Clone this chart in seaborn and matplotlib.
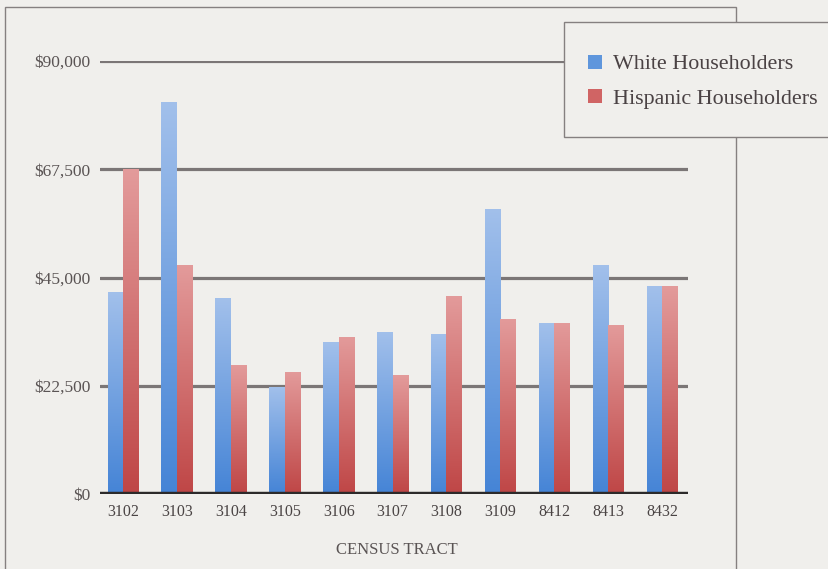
import numpy as np
import pandas as pd
import matplotlib
matplotlib.use("Agg")
import matplotlib.pyplot as plt
from matplotlib.patches import Rectangle
from matplotlib.colors import LinearSegmentedColormap
import seaborn as sns

# Median household income by census tract
tracts = ["3102", "3103", "3104", "3105", "3106", "3107",
          "3108", "3109", "8412", "8413", "8432"]
white_income = [42000, 81500, 40700, 22300, 31500, 33700,
                33300, 59300, 35600, 47700, 43200]
hispanic_income = [67500, 47700, 26900, 25400, 32700, 24700,
                   41200, 36400, 35600, 35200, 43200]
series_names = ["White Householders", "Hispanic Householders"]
y_ticks = [0, 22500, 45000, 67500, 90000]
y_tick_labels = ["$0", "$22,500", "$45,000", "$67,500", "$90,000"]

df = pd.DataFrame({
    "tract": tracts * 2,
    "income": white_income + hispanic_income,
    "group": [series_names[0]] * len(tracts) + [series_names[1]] * len(tracts),
})

sns.set_theme(style="white")
plt.rcParams["font.family"] = ["Liberation Serif", "DejaVu Serif"]

paper = "#f0efec"
W, H = 829, 569
fig = plt.figure(figsize=(W / 100, H / 100), dpi=100)
fig.patch.set_facecolor(paper)

ax_left, ax_right, ax_top, ax_bottom = 100, 688, 61, 494
ax = fig.add_axes([ax_left / W, 1 - ax_bottom / H,
                   (ax_right - ax_left) / W, (ax_bottom - ax_top) / H])
ax.set_facecolor(paper)

base_colors = {series_names[0]: "#5f96dc", series_names[1]: "#d06464"}
sns.barplot(data=df, x="tract", y="income", hue="group", order=tracts,
            hue_order=series_names, palette=base_colors, width=0.575,
            gap=0, saturation=1, ax=ax, zorder=3, linewidth=0)

if ax.get_legend() is not None:
    ax.get_legend().remove()

# vertical gradient fill on each bar
grad = {
    series_names[0]: LinearSegmentedColormap.from_list("w", ["#4584d6", "#a2c0eb"]),
    series_names[1]: LinearSegmentedColormap.from_list("h", ["#bf4646", "#e39b9b"]),
}
n = len(tracts)
bars = [p for p in ax.patches if p.get_height() > 0]
for i, bar in enumerate(bars):
    name = series_names[0] if i < n else series_names[1]
    x0 = bar.get_x()
    w = bar.get_width()
    h = bar.get_height()
    g = np.linspace(0, 1, 256).reshape(-1, 1)
    im = ax.imshow(g, cmap=grad[name], origin="lower", aspect="auto",
                   extent=[x0, x0 + w, 0, h], zorder=3.5, interpolation="bilinear")
    im.set_clip_path(bar)

ax.set_xlim(-0.427, 10.48)
ax.set_ylim(0, 90000)
ax.set_yticks(y_ticks)
ax.set_yticklabels(y_tick_labels)
ax.yaxis.grid(True, color="#7b7676", linewidth=2.3, zorder=1)
ax.xaxis.grid(False)
ax.axhline(0, color="#2c2a2a", linewidth=3.2, zorder=4, xmin=0, xmax=1)
for s in ax.spines.values():
    s.set_visible(False)
ax.tick_params(axis="both", length=0)
ax.tick_params(axis="y", pad=7, labelsize=12.5, labelcolor="#5a5454")
ax.tick_params(axis="x", pad=7, labelsize=11.5, labelcolor="#4a4444")
ax.set_ylabel("")
ax.set_xlabel("CENSUS TRACT", fontsize=12, color="#5a5454")
ax.xaxis.set_label_coords((397 - ax_left) / (ax_right - ax_left),
                          -(542 - ax_bottom) / (ax_bottom - ax_top))

# outer frame around the chart
fig.patches.append(Rectangle((5 / W, -0.05), (736 - 5) / W, 1.05 - 7 / H,
                             transform=fig.transFigure, fill=False,
                             edgecolor="#858080", linewidth=1.0, zorder=0.5))
# legend box
fig.patches.append(Rectangle((564 / W, 1 - 137 / H), 300 / W, (137 - 22) / H,
                             transform=fig.transFigure, facecolor=paper,
                             edgecolor="#858080", linewidth=1.0, zorder=5))

leg_handles = [Rectangle((0, 0), 1, 1, facecolor=base_colors[s], edgecolor="none")
               for s in series_names]
leg = fig.legend(leg_handles, series_names, loc="upper left",
                 bbox_to_anchor=(588 / W, 1 - 54.5 / H), frameon=False,
                 fontsize=15.8, handlelength=0.62, handleheight=0.62,
                 handletextpad=0.52, labelspacing=0.68, borderpad=0,
                 borderaxespad=0)
leg.set_zorder(6)
for t in leg.get_texts():
    t.set_color("#4a4244")

fig.savefig("out.png", dpi=100, facecolor=paper)
